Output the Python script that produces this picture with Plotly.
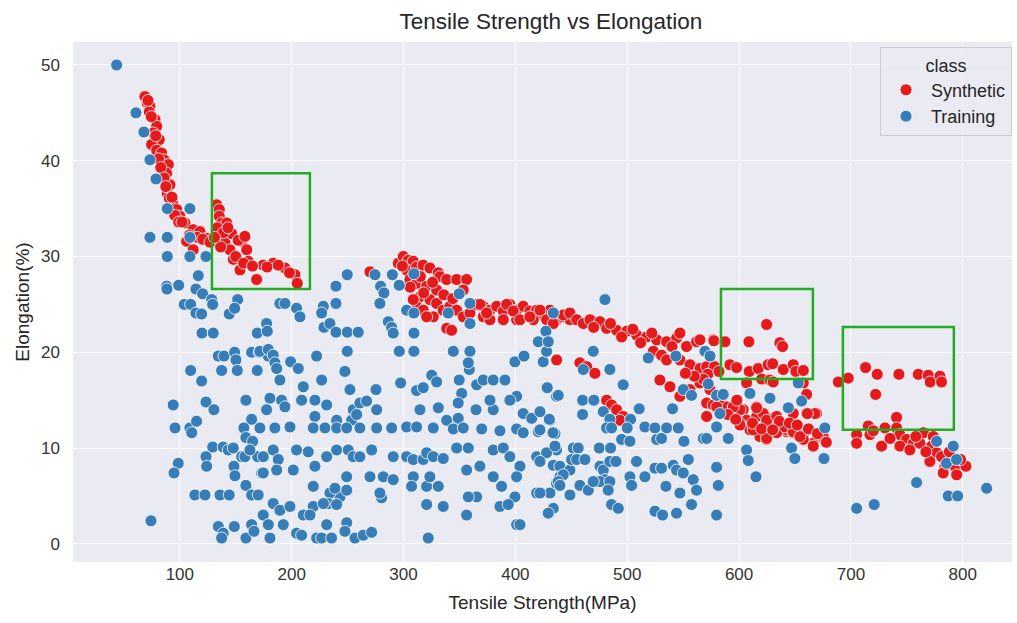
import plotly.graph_objects as go

classes = ["Synthetic", "Training"]
class_colors = ["#e41a1c", "#377eb8"]

synthetic = [
    (68.8,46.7),(70.9,46.0),(73.3,45.7),(72.7,45.1),(77.8,44.3),(79.3,43.6),(76.3,42.9),(81.6,42.2),(74.8,41.7),(79.3,41.1),
    (83.8,40.8),(85.8,40.1),(89.7,39.6),(88.2,38.7),(91.2,37.5),(88.8,36.6),(94.1,35.4),(97.2,34.9),(100.1,34.2),(104.6,33.5),
    (112,32.8),(118,32.6),(124,31.9),(106.1,31.6),(112,30.7),
    (71.5,46.3),(74.5,44.6),(78.5,42.6),(81,40.2),(83,39.3),(86,38.2),(87.5,37.3),(90.5,36.1),(93,36.2),(95.5,34.3),
    (99,33.6),(102,33.6),(108.5,32.2),(115.5,32.0),(120.5,31.8),(127,31.5),
    (132.9,35.4),(135.3,34.9),(135.3,34.2),(137.4,33.5),(135.3,32.1),(140.4,31.4),(144.8,30.7),(147.8,29.7),(153.8,28.6),(155.3,31.6),
    (159.8,30.7),(161.2,29.5),(168.7,27.6),(174.6,29.1),(183.5,29.3),(194,28.8),(202.9,28.1),(205,27.2),(141.9,33.5),(146.3,32.4),
    (152.2,31.7),(158.2,32.1),(133.5,33.0),(136.5,31.0),(139,32.5),(143,33.0),(150,30.0),(157,29.3),(165,29.0),(178,28.9),
    (188,29.1),(198,28.3),(131,32.0),
    (270,28.4),(295.3,29.3),(299.8,30.0),(304.2,29.6),(308.7,29.5),(302.8,28.6),(311.7,28.9),(317.6,29.1),(323.6,28.8),(331.1,28.3),
    (332.6,27.9),(338.6,27.6),(347.5,27.6),(356.4,27.6),(305.7,27.6),(311.7,27.2),(320.7,26.9),(329.6,26.5),(314.7,25.8),(323.6,25.5),
    (329.6,25.1),(311.7,24.8),(317.6,24.4),(326.6,23.7),(335.5,24.4),(341.5,24.8),(347.5,24.4),(353.4,23.7),(359.4,24.1),(338.6,22.5),
    (343,22.3),(320.7,23.7),(308.7,25.5),(353.4,26.5),(365.4,25.0),(371.3,24.8),(377.3,24.4),(383.3,24.8),(389.2,24.3),(395.1,25.0),
    (401.1,24.4),(407,24.8),(413,24.3),(419,24.4),(424.9,23.9),(430.9,24.4),(436.9,23.4),(442.8,23.7),(448.8,23.4),(389.2,23.4),
    (401.1,23.4),(416,23.4),(430.9,23.0),(371.3,23.7),(377.3,23.4),
    (306,26.8),(315,27.9),(326,27.3),(336,26.0),(344,25.6),(318,26.2),(299,29.0),
    (368.3,25.0),(374.3,24.1),(392.2,25.0),(398.1,24.3),(404.1,23.4),(413,23.7),(422,24.4),(427.9,23.4),(433.9,23.0),(442.8,23.9),
    (448.8,24.1),(454.8,23.4),(460.7,23.0),(466.7,23.4),(475.6,23.2),(481.6,22.5),(490.5,22.3),(499.5,22.2),(508.4,21.8),(517.4,21.6),
    (526.3,21.3),(535.2,21.1),(544.2,21.5),(547.1,22.0),(553.1,20.6),(562,21.1),(576.9,21.3),(587.4,21.1),
    (470,22.6),(485,23.0),(495,21.6),(505,22.4),(512,21.0),(522,22.0),(540,20.6),
    (523.3,20.1),(530.7,19.7),(535.2,19.2),(547.1,19.2),(556.1,18.7),(565,18.3),(529.2,17.1),(538.2,16.4),(547.1,15.4),(556.1,16.1),
    (565,16.8),(574,16.1),(571,14.7),(576.9,14.5),(588.8,14.3),(594.8,14.3),(603.7,14.0),(606.7,12.9),(615.7,13.3),(621.6,13.6),
    (627.6,12.9),(633.6,12.2),(642.5,11.7),(651.4,11.7),(657.4,11.2),(666.3,10.5),(660.4,13.6),(669.3,13.6),(618.6,11.2),(624.6,10.9),
    (600.8,12.6),(609.7,11.9),
    (436.9,19.2),(457.7,18.9),(463.7,18.5),(471.1,17.8),(481.6,15.0),(486,14.5),(490.5,14.0),(496.4,13.3),(493.5,12.9),
    (600.8,14.0),(615.7,14.3),(630.5,13.1),(642.5,11.9),(648.4,11.6),(657.4,10.9),(666.3,10.2),(675.3,11.0),(624.6,11.0),(612.6,11.9),
    (633.6,11.6),(648.4,13.6),(582.9,15.2),(571,13.3),
    (565,21.3),(577,21.3),(571,18.5),(578,18.5),(572,17.7),(582,18.0),(568,17.2),
    (579.9,14.3),(594.8,14.3),(600.8,12.4),(615.7,14.2),(624.6,12.9),(633.6,13.3),(641,12.2),(648.4,11.7),(654.4,11.2),
    (667.8,13.6),(675.3,11.2),(661,13.6),
    (636,12.8),(645,12.6),(652,12.4),(662,12.0),(670,11.5),(678,10.6),(590,13.5),(597,13.0),(612,12.6),(620,12.0),
    (630,11.9),(598,15.0),(586,15.6),(560,17.5),(552,17.8),
    (624.6,22.9),(608.8,21.1),(577.5,21.2),(587.4,21.1),(636.5,21.0),(638.9,20.6),(591.8,18.7),(597.8,18.4),(609.1,18.0),(617.1,18.3),
    (626,18.7),(630,18.8),(639.5,18.2),(648.4,18.7),(650.8,18.0),(657.4,18.1),(606.7,16.8),(620.2,17.2),(627.6,17.1),(630.5,16.9),
    (657.4,16.8),(660.4,15.6),
    (688.7,16.9),(697.6,17.3),(713.1,18.4),(723.5,17.7),(742.9,17.7),(760.2,17.7),(769.1,17.6),(779.6,17.5),(770.9,16.9),(781,16.9),
    (722.1,15.6),(740.8,13.2),
    (715.5,12.3),(717,11.4),(705.1,11.4),(705.1,10.5),(727.4,10.2),(730.4,12.1),(740.8,12.1),(743.8,11.4),(749.8,10.9),(755.7,10.5),
    (761.7,10.5),(743.8,10.2),(752.7,9.8),(764.7,11.6),(773.6,11.2),(772.1,10.2),(776.6,9.5),(770.6,8.6),(781,9.1),(784,8.1),
    (793,8.1),(794.5,7.2),(782.5,7.4),(802.8,8.1),
    (720,11.8),(735,11.0),(758,11.2),(767,9.6),(788,9.6),(798,8.8),
]

training = [
    (43.5,50.0),(60.8,45.0),(67.9,43.0),(73.3,40.1),(78.7,38.1),
    (88.8,35.0),(109,35.0),(73.3,32.0),(88.8,32.0),(109,32.0),(88.8,30.0),(109,30.0),(123.4,30.0),
    (116.5,28.0),(88.2,26.9),(88.5,26.6),(99,27.0),(114.4,26.6),(120.4,26.1),(128.5,25.5),(129.4,25.0),
    (104,25.0),(109.7,25.0),(114.4,24.1),(119.5,24.0),(151.7,25.5),(144.2,24.0),(149,24.6),
    (119.8,22.0),(129.9,22.0),(169.2,22.0),(177.6,23.0),
    (134.4,19.6),(139.5,19.6),(149,20.0),(150.2,19.2),(164.2,20.0),(171,20.0),(179,19.6),
    (109.7,18.1),(119.5,17.0),(137.4,18.1),(151.4,18.1),(169.2,18.1),
    (94.1,14.5),(123.4,14.8),(130.5,14.0),(159.1,15.0),
    (95.7,12.1),(109,12.1),(115,12.8),(110.6,11.6),(164.2,13.0),(157.3,12.1),(159.1,11.1),(165.1,10.7),
    (129.4,10.1),(138.8,10.1),(143.3,9.8),(147.8,10.0),(123.4,9.1),(124,8.1),
    (155.3,9.1),(158.2,9.1),(169.6,9.1),(162.7,9.8),(98.6,8.4),(94.8,7.4),(148.4,8.1),(149.3,7.1),(173.2,7.4),
    (113.5,5.1),(122.5,5.1),(135.9,5.1),(144.2,5.1),(159.1,6.1),(164.2,5.1),(170.1,5.1),
    (74.2,2.4),(134.4,1.8),(138.8,1.1),(137.4,0.6),(148.7,1.8),(159.1,0.6),(164.2,2.0),(166.3,1.3),(174,3.0),
    (249.7,28.1),(274.5,28.1),(290,28.1),(309.3,28.2),(239.6,26.9),(279.5,26.9),(282.5,26.2),(296.2,27.0),(349.8,26.1),
    (189.5,25.1),(194,25.1),(204.4,24.6),(207.4,23.7),(228.3,24.8),(226.8,24.1),(239.6,25.1),(278.9,25.1),(302.8,24.4),(309.3,24.1),
    (340,24.1),(359.4,25.1),
    (177.6,23.0),(178.2,22.2),(228.9,22.6),(234.2,23.0),(239.6,22.1),(249.7,22.1),(259.5,22.1),(286.4,23.2),(289.4,22.6),(290.8,22.0),
    (309.3,22.0),(359.4,23.0),(420.5,21.1),(427.3,22.2),(433.9,24.1),
    (171.6,20.1),(179.1,20.3),(183.5,19.7),(185,18.9),(222.3,19.6),(249.7,20.1),(296.2,20.1),(309.3,20.1),(344.5,20.1),(359.4,20.1),
    (399.6,19.0),(407.7,19.6),(424.9,19.0),(427.9,20.1),
    (186.6,18.3),(189.5,17.1),(199.1,19.0),(205.9,18.3),(247.6,18.0),(358.8,18.2),(357.9,18.9),
    (210.4,16.4),(226.8,17.1),(252.1,16.1),(275.4,16.1),(297.4,16.8),(311.7,16.0),(317.6,16.3),(325.2,17.6),(329.6,16.9),
    (349.8,17.1),(352,15.7),(365.4,16.6),(371.3,17.1),(380.2,17.1),(390.7,17.1),(401.1,15.4),(395.1,15.0),(427.9,16.3),(436.8,15.4),
    (180.6,15.2),(191,15.0),(177.6,14.0),(194,14.3),(208.9,15.0),(220.8,15.0),(231.3,14.5),(220.8,13.3),(240.2,12.9),(253.6,12.9),
    (255,14.0),(261,14.7),(267,14.9),(276,14.0),(258.1,13.5),
    (314.7,14.0),(331.1,14.2),(338.6,12.9),(348.9,13.1),(348.9,14.7),(364.8,14.0),(380.2,14.0),(377.3,15.0),(407,13.6),(414.6,13.1),
    (422,13.8),(430.9,12.9),
    (171.6,12.1),(185,12.1),(198.5,12.2),(219.3,12.1),(229.8,12.1),(240.2,12.1),(249.2,12.1),(261,12.1),(276,12.1),(289.4,12.1),
    (302.8,12.2),(311.7,12.2),(326.6,12.1),(344.5,12.0),(353.4,12.1),(369.9,12.0),(386.2,11.8),(401.1,12.0),(407,11.6),(420.5,11.7),
    (435.4,11.5),
    (183.5,9.8),(188,8.8),(174.6,9.1),(204.4,9.8),(214.8,9.6),(231.3,9.1),(220.8,8.1),
    (240.2,9.8),(250.6,9.8),(255,9.1),(261,9.1),(271.5,9.8),
    (201.4,7.7),(174.6,7.4),(186.6,7.7),(249.2,7.0),(270,7.0),(281.9,7.0),
    (290.8,9.1),(302.8,9.1),(308.7,8.8),(317.6,8.8),(320.7,9.5),(326.6,9.1),(335.5,8.9),
    (290.8,6.7),(308.7,7.0),(307.2,6.0),(320.7,6.0),(323.6,7.0),(331.1,6.0),
    (347.5,10.0),(357.9,10.0),(368.3,8.1),(380.2,9.8),(389.2,10.0),(395.1,9.1),(404.1,8.1),(419,9.1),(427.9,9.5),(436.8,9.8),
    (356.4,7.7),(365.4,4.9),(357.9,4.9),(380.2,7.0),(387.7,6.0),(399.6,4.9),(401.1,7.0),(419,5.3),(430.9,5.3),(436.8,6.3),
    (386.2,3.9),(393.6,4.1),(356.4,3.0),(335.5,3.9),(320.7,4.1),(401.1,2.0),(404.1,2.0),(322.1,0.6),
    (280.4,4.8),(278.9,5.3),(243.2,4.9),(234.2,5.3),(238.7,5.8),(249.2,5.6),(232.7,4.2),(240.2,4.1),
    (219.3,6.0),(219.3,3.9),(228.3,4.2),(210.4,3.0),(216.4,3.0),
    (183.5,4.2),(189.5,3.5),(198.5,3.9),(174.6,3.0),(192.5,2.0),(179.1,2.0),
    (231.3,2.0),(249.2,2.2),(247.6,1.3),
    (180.6,0.6),(204.4,1.1),(208.9,0.9),(222.3,0.6),(226.8,0.6),(235.7,0.6),(256.6,0.6),(264,0.9),(271.5,1.2),
    (428.5,16.3),(438.3,15.5),(460.1,15.0),(470.2,15.0),(460.1,13.5),(430.3,13.0),
    (478.6,13.8),(484.5,13.0),(481.5,12.1),(486,12.1),(496.4,16.6),
    (510.7,14.1),(503,13.0),(500,12.1),(515.8,12.2),(524.8,12.1),(535.2,12.1),(545.6,12.1),(540.5,14.1),
    (550.1,16.1),(557.5,15.5),(572.4,16.7),(579.9,15.5),(585.8,15.6),
    (582.9,13.6),(579.9,12.2),(568,11.0),(571,11.0),(590.3,11.0),
    (495,10.9),(502.4,10.7),(526.3,10.9),(530.7,11.0),(550.7,10.7),
    (609.7,15.7),(627.6,15.2),(644,14.2),(652.9,16.8),(655.9,14.9),
    (606.7,9.8),(608.2,8.7),(615.1,7.0),(646.9,10.0),(649.9,8.9),(676.7,12.1),(675.9,8.9),
    (427.9,9.5),(435.4,10.2),(422,8.6),(433.9,8.2),(439.8,8.1),(448.8,7.7),
    (451.8,10.0),(456.2,10.0),(450.3,8.8),(454.8,8.8),(462.2,8.8),(475,10.0),(485.1,10.0),
    (475.6,8.1),(478.6,7.7),(484.5,8.6),(489.9,8.6),(480.1,6.7),(475.6,6.5),(484.5,6.5),(483,5.6),
    (439.8,7.0),(442.8,7.2),(438.3,6.5),(439.8,6.1),(457.7,6.1),(448.8,5.1),(465.2,5.6),(469.6,6.5),
    (422,5.3),(433.9,3.7),(429.4,3.2),(486,4.1),(492,3.7),
    (508.3,8.6),(502.4,7.0),(503.9,6.1),(515.8,7.0),(524.8,7.9),(530.7,7.9),
    (541.2,8.2),(544.1,7.7),(550.1,7.4),(554.6,8.8),(559,6.7),(562,5.6),(547.1,5.3),(557.5,4.1),(534.6,6.0),
    (524.8,3.4),(531.6,3.0),(544.1,3.2),(579.9,8.0),(581.4,6.1),(579.9,3.0),(422,11.9),(433.6,11.6),
    (569.5,20.1),(574,19.6),(776.6,10.7),(791.5,10.2),(785.5,8.4),(794.4,8.8),(758.7,6.4),(787,5.0),(795.4,5.0),
    (705.1,3.7),(720.8,4.1),(821.3,5.8),
    (480.1,25.5),(429.4,21.1),(469.6,20.1),(460.7,18.2),(484.5,18.2),(518.8,19.4),(543.5,19.6),
]

# highlighted regions: (x0, x1, y0, y1) in data units
highlight_boxes = [
    (128.7, 216.3, 26.6, 38.7),
    (583.8, 666.0, 17.2, 26.6),
    (692.8, 792.0, 11.9, 22.65),
]

x_ticks = [100, 200, 300, 400, 500, 600, 700, 800]
y_ticks = [0, 10, 20, 30, 40, 50]

FONT = "Liberation Sans, Arial, sans-serif"
fig = go.Figure()
for name, color, pts in zip(classes, class_colors, [synthetic, training]):
    fig.add_trace(go.Scatter(
        x=[p[0] for p in pts], y=[p[1] for p in pts], mode="markers", name=name,
        marker=dict(color=color, size=12, line=dict(color="white", width=0.8)),
    ))

for x0, x1, y0, y1 in highlight_boxes:
    fig.add_shape(type="rect", xref="x", yref="y", x0=x0, x1=x1, y0=y0, y1=y1,
                  line=dict(color="#22ac22", width=2.5), fillcolor="rgba(0,0,0,0)")

fig.update_layout(
    width=1017, height=623,
    margin=dict(l=73, r=5, t=42, b=61, autoexpand=False),
    paper_bgcolor="white", plot_bgcolor="#eaeaf2",
    font=dict(family=FONT, color="#262626"),
    title=dict(text="Tensile Strength vs Elongation", x=0.509, xref="paper", xanchor="center",
               y=0.966, yref="container", yanchor="middle", font=dict(size=22.5, color="#262626")),
    xaxis=dict(range=[4.5, 844], tickvals=x_ticks, showgrid=True, gridcolor="white", gridwidth=1.2,
               zeroline=False, showline=False, ticks="", tickfont=dict(size=17, color="#333333"),
               title=dict(text="Tensile Strength(MPa)", font=dict(size=19, color="#262626"), standoff=12)),
    yaxis=dict(range=[-1.9, 52.4], tickvals=y_ticks, showgrid=True, gridcolor="white", gridwidth=1.2,
               zeroline=False, showline=False, ticks="", ticklabelstandoff=12,
               tickfont=dict(size=17, color="#333333"),
               title=dict(text="Elongation(%)", font=dict(size=19, color="#262626"), standoff=6)),
    legend=dict(x=1.0, xanchor="right", y=0.99, yanchor="top",
                bgcolor="rgba(234,234,242,0.85)", bordercolor="#cccccc", borderwidth=1,
                title=dict(text="class", side="top center", font=dict(size=18)),
                font=dict(size=18, color="#262626"), itemwidth=40),
    showlegend=True,
)

fig.write_html("out.html")
